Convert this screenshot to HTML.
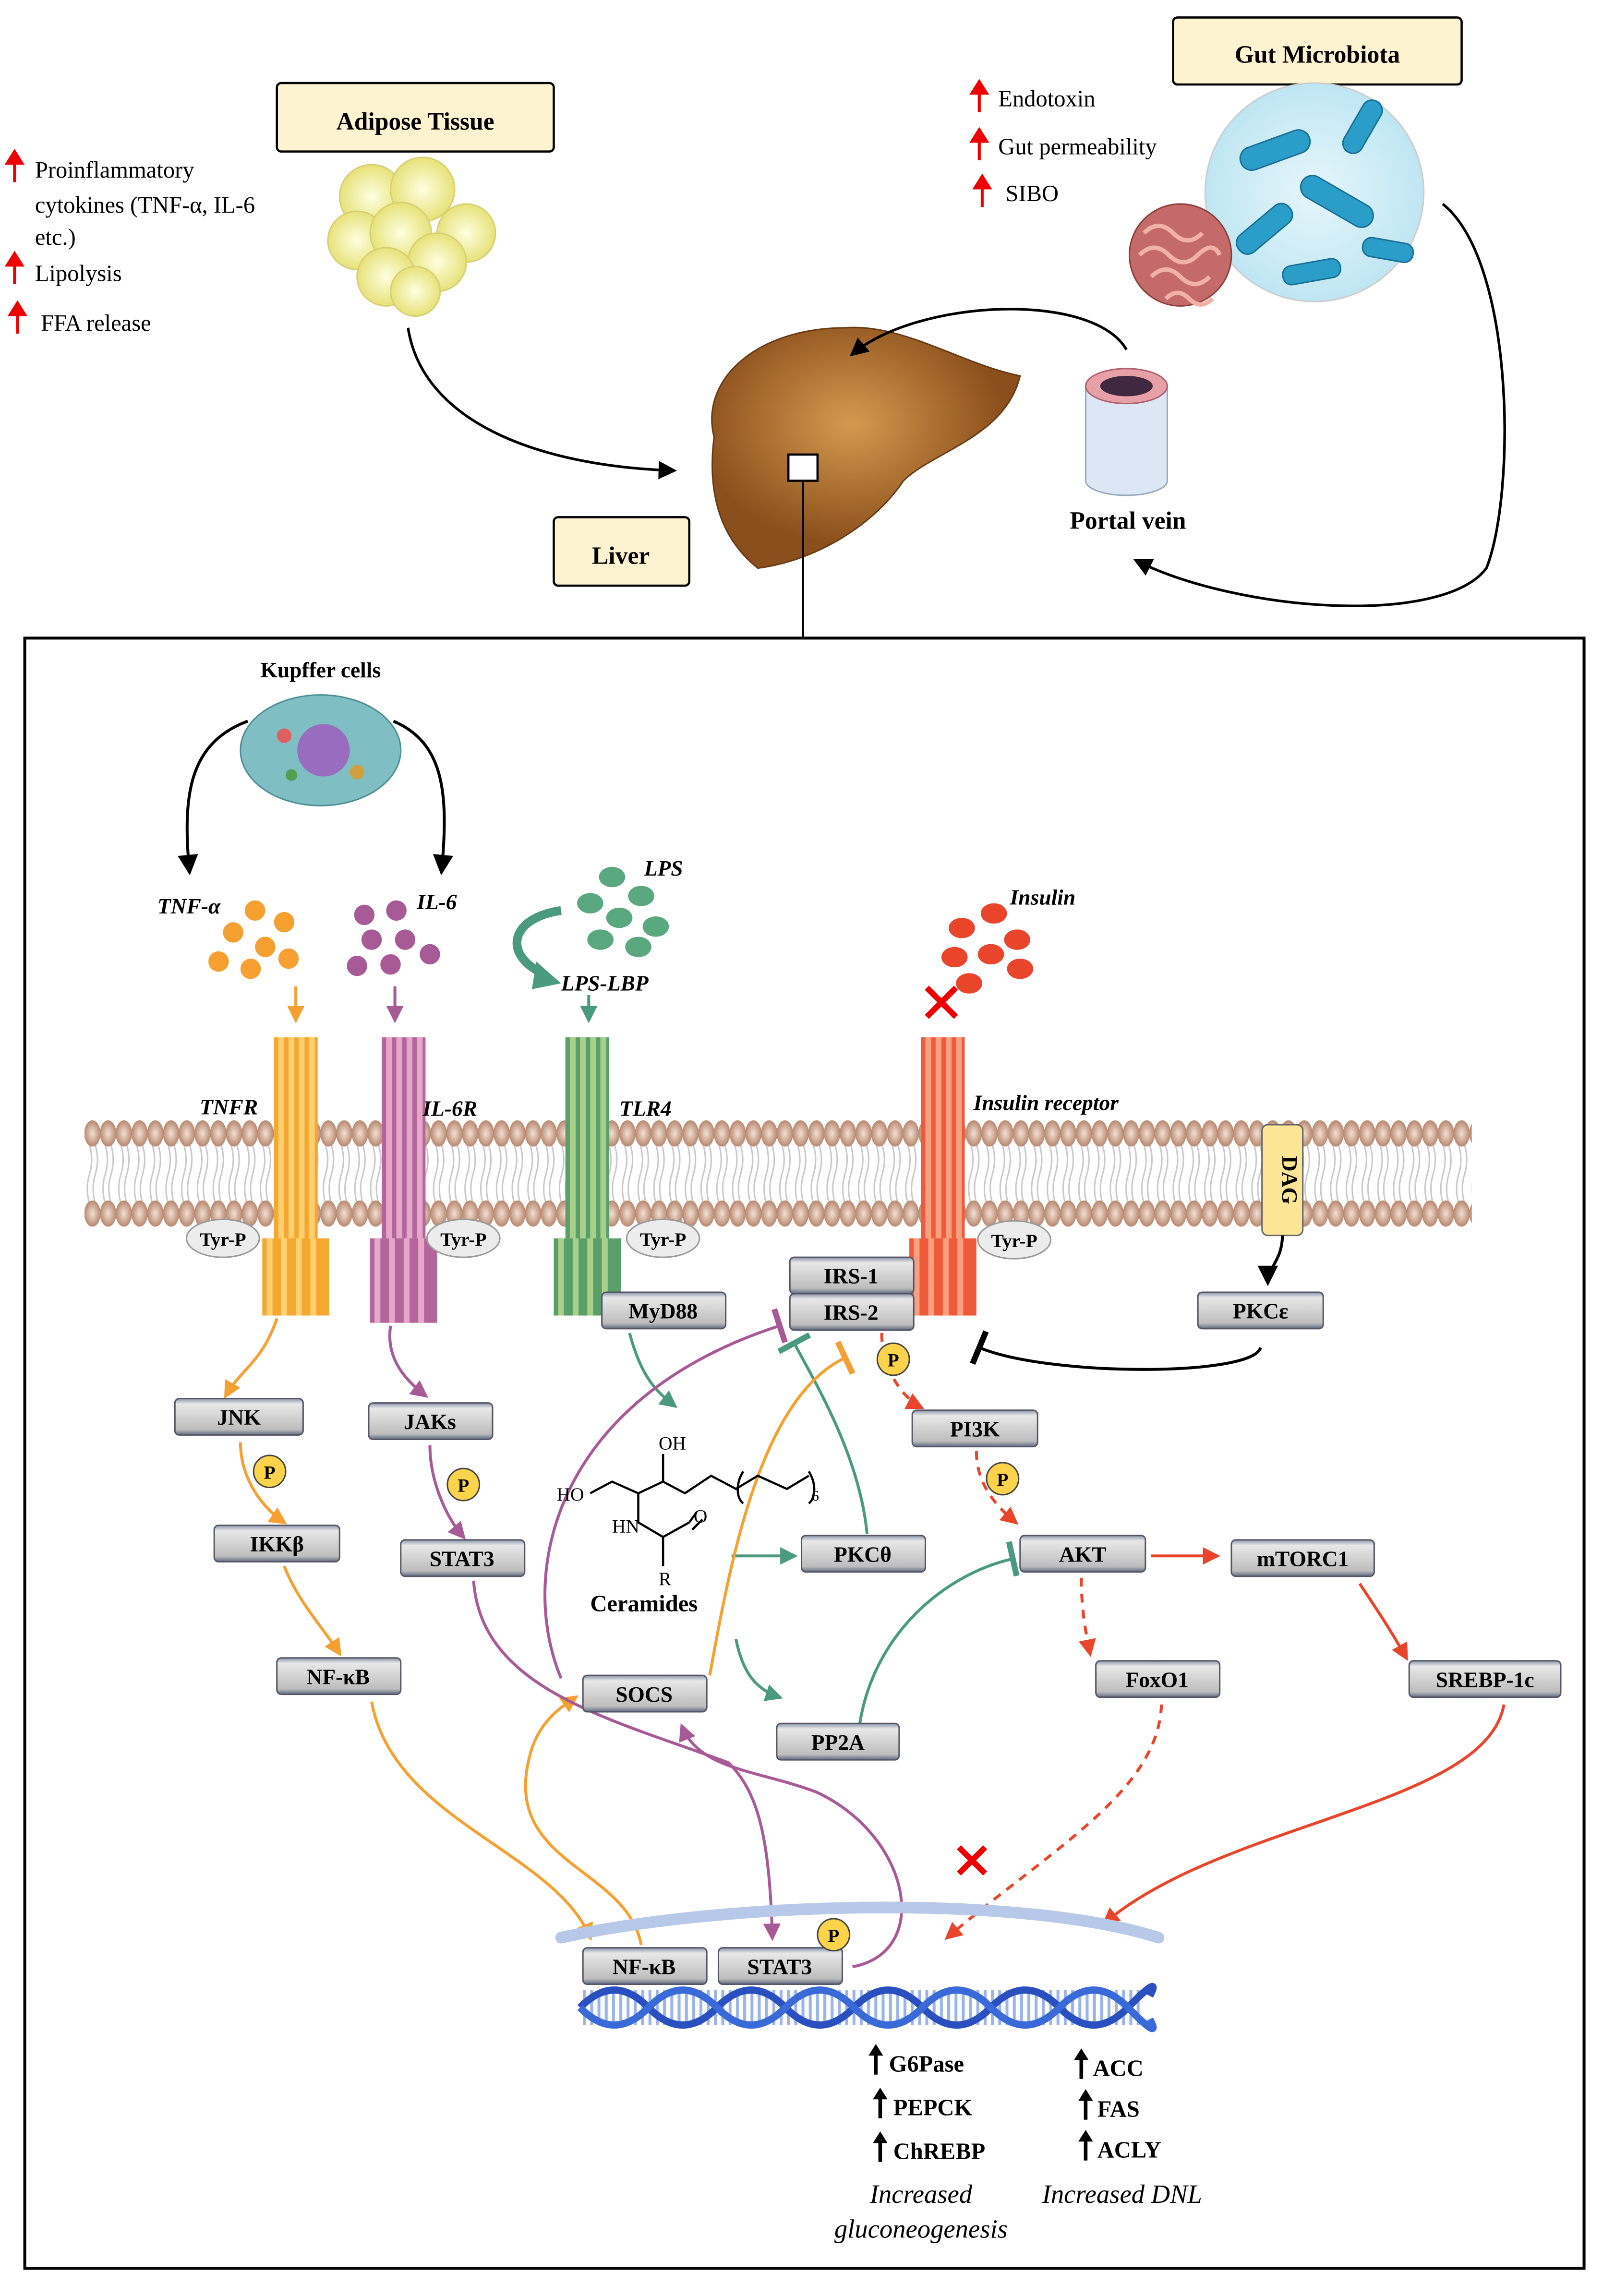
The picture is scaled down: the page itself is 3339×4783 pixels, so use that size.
<!DOCTYPE html>
<html><head><meta charset="utf-8">
<style>
html,body{margin:0;padding:0;background:#fff;}
svg{display:block;}
text{font-family:"Liberation Serif",serif;}
.lbl{font-weight:bold;font-size:17px;}
.it{font-style:italic;font-weight:bold;font-size:15px;}
.box text{font-weight:bold;font-size:15px;text-anchor:middle;}
.box rect{fill:url(#gb);stroke:#556;stroke-width:1;}
</style></head>
<body>
<svg width="3339" height="4783" viewBox="0 0 1100 1576" preserveAspectRatio="none" xmlns="http://www.w3.org/2000/svg">
<defs>
<linearGradient id="gb" x1="0" y1="0" x2="0" y2="1"><stop offset="0" stop-color="#8a96aa"/><stop offset="0.15" stop-color="#e8e8e8"/><stop offset="0.85" stop-color="#bdbdbd"/><stop offset="1" stop-color="#5d6b82"/></linearGradient>
<radialGradient id="head"><stop offset="0" stop-color="#f3e0d4"/><stop offset="1" stop-color="#b78870"/></radialGradient>
<radialGradient id="fat"><stop offset="0" stop-color="#ffffe0"/><stop offset="1" stop-color="#e6e27a"/></radialGradient>
<radialGradient id="liv" cx="0.45" cy="0.4"><stop offset="0" stop-color="#d59a4e"/><stop offset="1" stop-color="#8a4f1c"/></radialGradient>
<radialGradient id="gut"><stop offset="0" stop-color="#e6f6fb"/><stop offset="1" stop-color="#bfe6f3"/></radialGradient>
<pattern id="mem" patternUnits="userSpaceOnUse" x="58" y="765" width="10.8" height="80">
<path d="M3.4,21 q3,10 0,20 t0,20 M7.4,21 q3,10 0,20 t0,20" stroke="#c8c8c8" stroke-width="1" fill="none"/>
<ellipse cx="5.4" cy="13" rx="5.6" ry="9" fill="url(#head)"/>
<ellipse cx="5.4" cy="68" rx="5.6" ry="9" fill="url(#head)"/>
</pattern>
<pattern id="rung" patternUnits="userSpaceOnUse" x="0" y="0" width="5" height="40">
<rect x="0" y="0" width="2" height="40" fill="#9ab4e8"/>
</pattern>
<marker id="ak" viewBox="0 0 10 10" refX="8" refY="5" markerWidth="7" markerHeight="7" orient="auto"><path d="M0,0L10,5L0,10z" fill="#000"/></marker>
<marker id="ao" viewBox="0 0 10 10" refX="8" refY="5" markerWidth="6" markerHeight="6" orient="auto"><path d="M0,0L10,5L0,10z" fill="#f5a030"/></marker>
<marker id="ap" viewBox="0 0 10 10" refX="8" refY="5" markerWidth="6" markerHeight="6" orient="auto"><path d="M0,0L10,5L0,10z" fill="#a85a96"/></marker>
<marker id="ag" viewBox="0 0 10 10" refX="8" refY="5" markerWidth="6" markerHeight="6" orient="auto"><path d="M0,0L10,5L0,10z" fill="#4a9a80"/></marker>
<marker id="ar" viewBox="0 0 10 10" refX="8" refY="5" markerWidth="6" markerHeight="6" orient="auto"><path d="M0,0L10,5L0,10z" fill="#e8452a"/></marker>
<marker id="tg" viewBox="0 0 4 12" refX="2" refY="6" markerWidth="4" markerHeight="12" orient="auto"><path d="M2,0V12" stroke="#4a9a80" stroke-width="2"/></marker>
<marker id="tp" viewBox="0 0 4 12" refX="2" refY="6" markerWidth="4" markerHeight="12" orient="auto"><path d="M2,0V12" stroke="#a85a96" stroke-width="2"/></marker>
<marker id="to" viewBox="0 0 4 12" refX="2" refY="6" markerWidth="4" markerHeight="12" orient="auto"><path d="M2,0V12" stroke="#f5a030" stroke-width="2"/></marker>
<marker id="tk" viewBox="0 0 4 12" refX="2" refY="6" markerWidth="4" markerHeight="12" orient="auto"><path d="M2,0V12" stroke="#000" stroke-width="2"/></marker>
</defs>

<!-- Top section -->
<g font-size="16">
<text x="24" y="122">Proinflammatory</text>
<text x="24" y="146">cytokines (TNF-α, IL-6</text>
<text x="24" y="168">etc.)</text>
<text x="24" y="193">Lipolysis</text>
<text x="28" y="227">FFA release</text>
<text x="685" y="73">Endotoxin</text>
<text x="685" y="106">Gut permeability</text>
<text x="690" y="138">SIBO</text>
</g>
<g fill="#e00" stroke="#e00" stroke-width="2">
<path d="M10,125V108"/><path d="M5,112L10,104L15,112z"/>
<path d="M10,195V178"/><path d="M5,182L10,174L15,182z"/>
<path d="M12,229V212"/><path d="M7,216L12,208L17,216z"/>
<path d="M672,77V60"/><path d="M667,64L672,56L677,64z"/>
<path d="M672,110V93"/><path d="M667,97L672,89L677,97z"/>
<path d="M674,142V125"/><path d="M669,129L674,121L679,129z"/>
</g>
<g stroke="#000" stroke-width="1.5" fill="#fdf3d0">
<rect x="190" y="57" width="190" height="47" rx="3"/>
<rect x="805" y="12" width="198" height="46" rx="3"/>
<rect x="380" y="355" width="93" height="47" rx="3"/>
</g>
<text x="285" y="89" text-anchor="middle" class="lbl" font-size="20">Adipose Tissue</text>
<text x="904" y="43" text-anchor="middle" class="lbl" font-size="20">Gut Microbiota</text>
<text x="426" y="387" text-anchor="middle" class="lbl" font-size="20">Liver</text>
<g fill="url(#fat)" stroke="#d8d070" stroke-width="1">
<circle cx="255" cy="135" r="22"/><circle cx="290" cy="130" r="22"/><circle cx="320" cy="160" r="20"/>
<circle cx="245" cy="165" r="20"/><circle cx="275" cy="160" r="21"/><circle cx="300" cy="180" r="20"/>
<circle cx="265" cy="190" r="20"/><circle cx="285" cy="200" r="17"/>
</g>
<circle cx="902" cy="132" r="75" fill="url(#gut)" stroke="#ccc"/>
<g fill="#2a9dc8" stroke="#1a6f96" stroke-width="1">
<rect x="850" y="95" width="50" height="16" rx="8" transform="rotate(-20 875 103)"/>
<rect x="890" y="130" width="55" height="16" rx="8" transform="rotate(30 917 138)"/>
<rect x="845" y="150" width="45" height="15" rx="7" transform="rotate(-40 867 157)"/>
<rect x="915" y="80" width="40" height="14" rx="7" transform="rotate(-60 935 87)"/>
<rect x="935" y="165" width="35" height="13" rx="6" transform="rotate(10 952 171)"/>
<rect x="880" y="180" width="40" height="13" rx="6" transform="rotate(-10 900 186)"/>
</g>
<ellipse cx="810" cy="175" rx="35" ry="35" fill="#c46a6a" stroke="#8d3e3e"/>
<path d="M785,160q10,-10 20,0t20,0M782,175q10,-10 20,0t20,0t15,0M790,190q10,-10 20,0t20,0M800,205q8,-8 16,0t16,0" stroke="#f1b1a6" stroke-width="3" fill="none"/>
<path d="M490,300 C480,260 520,225 580,225 C620,222 660,250 700,258 C690,300 640,310 620,330 C600,360 560,385 520,390 C495,370 485,340 490,300z" fill="url(#liv)" stroke="#6b3a12"/>
<rect x="541" y="312" width="20" height="18" fill="#fff" stroke="#000" stroke-width="1.5"/>
<path d="M551,330V438" stroke="#000" stroke-width="1.5"/>
<path d="M745,265 V330 a28,10 0 0 0 56,0 V265" fill="#dde6f5" stroke="#9ab"/>
<ellipse cx="773" cy="265" rx="28" ry="12" fill="#e8a0a8" stroke="#b06070"/>
<ellipse cx="773" cy="265" rx="18" ry="7" fill="#402840"/>
<text x="774" y="363" text-anchor="middle" class="lbl" font-size="20">Portal vein</text>
<g fill="none" stroke="#000" stroke-width="1.8" marker-end="url(#ak)">
<path d="M280,225 C290,290 370,320 462,323"/>
<path d="M773,240 C750,200 630,205 585,243"/>
<path d="M990,140 C1040,180 1040,340 1020,390 C990,430 850,420 780,385"/>
</g>

<rect x="17" y="438" width="1070" height="1119" fill="none" stroke="#000" stroke-width="2"/>

<text x="220" y="465" text-anchor="middle" font-weight="bold" font-size="15">Kupffer cells</text>
<ellipse cx="220" cy="515" rx="55" ry="38" fill="#7fbfc4" stroke="#4d8e96"/>
<circle cx="222" cy="515" r="18" fill="#9a6cc0"/>
<circle cx="195" cy="505" r="5" fill="#e06060"/><circle cx="245" cy="530" r="5" fill="#d0a040"/><circle cx="200" cy="532" r="4" fill="#50a050"/>
<g fill="none" stroke="#000" stroke-width="2" marker-end="url(#ak)">
<path d="M170,495 C130,510 125,545 130,598"/>
<path d="M270,495 C305,510 308,545 303,598"/>
</g>

<g fill="#f5a030"><circle cx="175" cy="625" r="7"/><circle cx="195" cy="633" r="7"/><circle cx="160" cy="640" r="7"/><circle cx="182" cy="650" r="7"/><circle cx="150" cy="660" r="7"/><circle cx="172" cy="665" r="7"/><circle cx="198" cy="658" r="7"/></g>
<g fill="#a85a96"><circle cx="250" cy="628" r="7"/><circle cx="272" cy="625" r="7"/><circle cx="255" cy="645" r="7"/><circle cx="278" cy="645" r="7"/><circle cx="245" cy="663" r="7"/><circle cx="268" cy="662" r="7"/><circle cx="295" cy="655" r="7"/></g>
<g fill="#5aa880"><ellipse cx="420" cy="602" rx="9" ry="7"/><ellipse cx="440" cy="615" rx="9" ry="7"/><ellipse cx="405" cy="620" rx="9" ry="7"/><ellipse cx="425" cy="630" rx="9" ry="7"/><ellipse cx="450" cy="636" rx="9" ry="7"/><ellipse cx="412" cy="645" rx="9" ry="7"/><ellipse cx="438" cy="650" rx="9" ry="7"/></g>
<g fill="#e8452a"><ellipse cx="660" cy="637" rx="9" ry="7"/><ellipse cx="682" cy="627" rx="9" ry="7"/><ellipse cx="698" cy="645" rx="9" ry="7"/><ellipse cx="655" cy="657" rx="9" ry="7"/><ellipse cx="680" cy="655" rx="9" ry="7"/><ellipse cx="700" cy="665" rx="9" ry="7"/><ellipse cx="665" cy="675" rx="9" ry="7"/></g>
<text x="108" y="627" class="it">TNF-α</text>
<text x="286" y="624" class="it">IL-6</text>
<text x="442" y="601" class="it">LPS</text>
<text x="385" y="680" class="it">LPS-LBP</text>
<text x="693" y="621" class="it">Insulin</text>
<path d="M385,625 C350,630 345,655 372,668" fill="none" stroke="#4a9a80" stroke-width="6"/>
<path d="M368,660 L385,675 L365,679z" fill="#4a9a80"/>
<path d="M636,678 l20,20 M656,678 l-20,20" stroke="#e00" stroke-width="4"/>

<!-- membrane -->
<rect x="58" y="765" width="952" height="80" fill="url(#mem)"/>

<!-- receptors -->
<g>
<rect x="188" y="712" width="30" height="138" fill="#f5a830"/>
<rect x="191" y="712" width="4" height="138" fill="#fcd070"/><rect x="198" y="712" width="4" height="138" fill="#fcd070"/><rect x="205" y="712" width="4" height="138" fill="#fcd070"/><rect x="212" y="712" width="4" height="138" fill="#fcd070"/>
<rect x="180" y="850" width="46" height="53" fill="#f5a830"/>
<rect x="183" y="850" width="4" height="53" fill="#fcd070"/><rect x="193" y="850" width="4" height="53" fill="#fcd070"/><rect x="203" y="850" width="4" height="53" fill="#fcd070"/><rect x="213" y="850" width="4" height="53" fill="#fcd070"/>

<rect x="262" y="712" width="30" height="138" fill="#b4669c"/>
<rect x="265" y="712" width="4" height="138" fill="#e6a8c8"/><rect x="272" y="712" width="4" height="138" fill="#e6a8c8"/><rect x="279" y="712" width="4" height="138" fill="#e6a8c8"/><rect x="286" y="712" width="4" height="138" fill="#e6a8c8"/>
<rect x="254" y="850" width="46" height="58" fill="#b4669c"/>
<rect x="257" y="850" width="4" height="58" fill="#e6a8c8"/><rect x="267" y="850" width="4" height="58" fill="#e6a8c8"/><rect x="277" y="850" width="4" height="58" fill="#e6a8c8"/><rect x="287" y="850" width="4" height="58" fill="#e6a8c8"/>

<rect x="388" y="712" width="30" height="138" fill="#5a9e6a"/>
<rect x="391" y="712" width="4" height="138" fill="#a8d088"/><rect x="398" y="712" width="4" height="138" fill="#a8d088"/><rect x="405" y="712" width="4" height="138" fill="#a8d088"/><rect x="412" y="712" width="4" height="138" fill="#a8d088"/>
<rect x="380" y="850" width="46" height="53" fill="#5a9e6a"/>
<rect x="383" y="850" width="4" height="53" fill="#a8d088"/><rect x="393" y="850" width="4" height="53" fill="#a8d088"/><rect x="403" y="850" width="4" height="53" fill="#a8d088"/><rect x="413" y="850" width="4" height="53" fill="#a8d088"/>

<rect x="632" y="712" width="30" height="138" fill="#ee5a3a"/>
<rect x="635" y="712" width="4" height="138" fill="#f8a080"/><rect x="642" y="712" width="4" height="138" fill="#f8a080"/><rect x="649" y="712" width="4" height="138" fill="#f8a080"/><rect x="656" y="712" width="4" height="138" fill="#f8a080"/>
<rect x="624" y="850" width="46" height="53" fill="#ee5a3a"/>
<rect x="627" y="850" width="4" height="53" fill="#f8a080"/><rect x="637" y="850" width="4" height="53" fill="#f8a080"/><rect x="647" y="850" width="4" height="53" fill="#f8a080"/><rect x="657" y="850" width="4" height="53" fill="#f8a080"/>
</g>
<text x="137" y="765" class="it">TNFR</text>
<text x="290" y="766" class="it">IL-6R</text>
<text x="425" y="766" class="it">TLR4</text>
<text x="668" y="762" class="it">Insulin receptor</text>
<rect x="866" y="772" width="28" height="76" rx="4" fill="#fce595" stroke="#666"/>
<text x="880" y="810" text-anchor="middle" font-weight="bold" font-size="15" transform="rotate(90 880 810)">DAG</text>
<g fill="#ececec" stroke="#999">
<ellipse cx="153" cy="850" rx="25" ry="13"/><ellipse cx="318" cy="850" rx="25" ry="13"/><ellipse cx="455" cy="850" rx="25" ry="13"/><ellipse cx="696" cy="851" rx="25" ry="13"/>
</g>
<g font-size="13" text-anchor="middle" font-weight="bold"><text x="153" y="855">Tyr-P</text><text x="318" y="855">Tyr-P</text><text x="455" y="855">Tyr-P</text><text x="696" y="856">Tyr-P</text></g>

<!-- connectors -->
<g fill="none" stroke-width="2">
<path d="M203,677V700" stroke="#f5a030" marker-end="url(#ao)"/>
<path d="M271,677V700" stroke="#a85a96" marker-end="url(#ap)"/>
<path d="M404,683V700" stroke="#4a9a80" marker-end="url(#ag)"/>
<path d="M880,848 C880,865 870,870 870,880" stroke="#000" marker-end="url(#ak)"/>
<path d="M190,905 C180,935 165,940 155,958" stroke="#f5a030" marker-end="url(#ao)"/>
<path d="M165,990 C165,1015 180,1035 195,1045" stroke="#f5a030" marker-end="url(#ao)"/>
<path d="M195,1075 C205,1100 220,1115 233,1135" stroke="#f5a030" marker-end="url(#ao)"/>
<path d="M268,910 C265,930 275,945 292,958" stroke="#a85a96" marker-end="url(#ap)"/>
<path d="M295,992 C295,1015 305,1040 318,1055" stroke="#a85a96" marker-end="url(#ap)"/>
<path d="M432,915 C440,945 450,955 463,965" stroke="#4a9a80" marker-end="url(#ag)"/>
<path d="M502,1068 H545" stroke="#4a9a80" marker-end="url(#ag)"/>
<path d="M505,1125 C510,1150 520,1160 535,1165" stroke="#4a9a80" marker-end="url(#ag)"/>
<path d="M590,1183 C600,1120 650,1080 695,1070" stroke="#4a9a80" marker-end="url(#tg)"/>
<path d="M595,1053 C590,1000 560,950 545,922" stroke="#4a9a80" marker-end="url(#tg)"/>
<path d="M865,925 C860,945 720,945 672,925" stroke="#000" marker-end="url(#tk)"/>
<path d="M385,1152 C355,1080 380,960 535,910" stroke="#a85a96" marker-end="url(#tp)"/>
<path d="M487,1150 C500,1080 520,960 580,932" stroke="#f5a030" marker-end="url(#to)"/>
<path d="M605,915 C605,940 620,960 632,966" stroke="#e8452a" stroke-dasharray="6,5" marker-end="url(#ar)"/>
<path d="M670,996 C670,1020 685,1035 697,1045" stroke="#e8452a" stroke-dasharray="6,5" marker-end="url(#ar)"/>
<path d="M790,1068 H835" stroke="#e8452a" marker-end="url(#ar)"/>
<path d="M742,1083 C742,1105 745,1120 748,1135" stroke="#e8452a" stroke-dasharray="6,5" marker-end="url(#ar)"/>
<path d="M933,1087 C945,1105 955,1120 965,1138" stroke="#e8452a" marker-end="url(#ar)"/>
<path d="M797,1170 C795,1230 720,1270 650,1330" stroke="#e8452a" stroke-dasharray="6,5" marker-end="url(#ar)"/>
<path d="M1032,1170 C1020,1240 840,1250 758,1320" stroke="#e8452a" marker-end="url(#ar)"/>
<path d="M255,1168 C270,1250 380,1270 405,1330" stroke="#f5a030" marker-end="url(#ao)"/>
<path d="M440,1335 C430,1280 340,1280 365,1200 C372,1180 385,1172 395,1165" stroke="#f5a030" marker-end="url(#ao)"/>
<path d="M325,1085 C330,1160 420,1180 500,1210 C520,1230 528,1260 530,1330" stroke="#a85a96" marker-end="url(#ap)"/>
<path d="M585,1350 C640,1340 625,1260 560,1230 C520,1215 480,1215 468,1185" stroke="#a85a96" marker-end="url(#ap)"/>
</g>
<path d="M658,1268 l18,18 M676,1268 l-18,18" stroke="#e00" stroke-width="4"/>

<!-- ceramide -->
<g fill="none" stroke="#000" stroke-width="1.5">
<path d="M405,1025 L420,1017 L438,1025 L455,1017 L470,1025 L488,1013 L505,1022 L520,1013 L540,1022 L555,1013"/>
<path d="M455,1017 V998"/>
<path d="M438,1025 V1045 L455,1055 L473,1045"/>
<path d="M473,1045 L478,1038 M475,1050 L482,1043"/>
<path d="M455,1055 V1075"/>
<path d="M510,1010 C505,1018 505,1028 510,1032 M555,1010 C560,1018 560,1028 555,1032"/>
</g>
<g font-size="13" font-family="Liberation Sans,sans-serif">
<text x="452" y="995" font-family="Liberation Sans,sans-serif">OH</text>
<text x="382" y="1030" font-family="Liberation Sans,sans-serif">HO</text>
<text x="420" y="1052" font-family="Liberation Sans,sans-serif">HN</text>
<text x="476" y="1045" font-family="Liberation Sans,sans-serif">O</text>
<text x="452" y="1088" font-family="Liberation Sans,sans-serif">R</text>
<text x="557" y="1030" font-size="10" font-family="Liberation Sans,sans-serif">6</text>
</g>
<text x="405" y="1106" font-weight="bold" font-size="16">Ceramides</text>

<!-- nucleus -->
<path d="M385,1330 C500,1305 700,1300 795,1330" fill="none" stroke="#b8c8e8" stroke-width="8" stroke-linecap="round"/>
<rect x="398" y="1366" width="387" height="24" fill="url(#rung)"/>
<path d="M398,1378 q23.5,-24 47,0 t47,0 t47,0 t47,0 t47,0 t47,0 t47,0 t47,0 t15,-8" fill="none" stroke="#2a50c0" stroke-width="5"/>
<path d="M398,1378 q23.5,24 47,0 t47,0 t47,0 t47,0 t47,0 t47,0 t47,0 t47,0 t15,8" fill="none" stroke="#3a6ad8" stroke-width="5"/>

<!-- boxes -->
<g class="box">
<rect x="120" y="960" width="88" height="25" rx="3"/><text x="164" y="978">JNK</text>
<rect x="147" y="1047" width="86" height="25" rx="3"/><text x="190" y="1065">IKKβ</text>
<rect x="190" y="1138" width="85" height="25" rx="3"/><text x="232" y="1156">NF-κB</text>
<rect x="253" y="963" width="85" height="25" rx="3"/><text x="295" y="981">JAKs</text>
<rect x="275" y="1057" width="85" height="25" rx="3"/><text x="317" y="1075">STAT3</text>
<rect x="413" y="887" width="85" height="25" rx="3"/><text x="455" y="905">MyD88</text>
<rect x="542" y="863" width="85" height="25" rx="3"/><text x="584" y="881">IRS-1</text>
<rect x="542" y="888" width="85" height="25" rx="3"/><text x="584" y="906">IRS-2</text>
<rect x="822" y="887" width="86" height="25" rx="3"/><text x="865" y="905">PKCε</text>
<rect x="626" y="968" width="86" height="25" rx="3"/><text x="669" y="986">PI3K</text>
<rect x="700" y="1054" width="86" height="25" rx="3"/><text x="743" y="1072">AKT</text>
<rect x="845" y="1057" width="98" height="25" rx="3"/><text x="894" y="1075">mTORC1</text>
<rect x="550" y="1054" width="85" height="25" rx="3"/><text x="592" y="1072">PKCθ</text>
<rect x="400" y="1150" width="85" height="25" rx="3"/><text x="442" y="1168">SOCS</text>
<rect x="533" y="1183" width="84" height="25" rx="3"/><text x="575" y="1201">PP2A</text>
<rect x="752" y="1140" width="85" height="25" rx="3"/><text x="794" y="1158">FoxO1</text>
<rect x="967" y="1140" width="104" height="25" rx="3"/><text x="1019" y="1158">SREBP-1c</text>
<rect x="400" y="1337" width="85" height="25" rx="3"/><text x="442" y="1355">NF-κB</text>
<rect x="493" y="1337" width="85" height="25" rx="3"/><text x="535" y="1355">STAT3</text>
</g>

<!-- P circles -->
<g fill="#fcd34a" stroke="#444" stroke-width="1">
<circle cx="185" cy="1010" r="11"/><circle cx="318" cy="1019" r="11"/><circle cx="613" cy="933" r="11"/><circle cx="688" cy="1015" r="11"/><circle cx="572" cy="1328" r="11"/>
</g>
<g font-size="13" font-weight="bold" text-anchor="middle">
<text x="185" y="1015">P</text><text x="318" y="1024">P</text><text x="613" y="938">P</text><text x="688" y="1020">P</text><text x="572" y="1333">P</text>
</g>

<!-- genes -->
<g font-weight="bold" font-size="16">
<text x="610" y="1422">G6Pase</text><text x="613" y="1452">PEPCK</text><text x="613" y="1482">ChREBP</text>
<text x="750" y="1425">ACC</text><text x="753" y="1453">FAS</text><text x="753" y="1481">ACLY</text>
</g>
<g stroke="#000" stroke-width="2.5">
<path d="M601,1424V1408 M742,1427V1411 M745,1455V1439 M745,1483V1467 M604,1454V1438 M604,1484V1468"/>
</g>
<path d="M596,1411L601,1403L606,1411z M737,1414L742,1406L747,1414z M740,1442L745,1434L750,1442z M740,1470L745,1462L750,1470z M599,1441L604,1433L609,1441z M599,1471L604,1463L609,1471z"/>
<g font-style="italic" font-size="18">
<text x="632" y="1512" text-anchor="middle">Increased</text>
<text x="632" y="1536" text-anchor="middle">gluconeogenesis</text>
<text x="770" y="1512" text-anchor="middle">Increased DNL</text>
</g>
</svg>
</body></html>
